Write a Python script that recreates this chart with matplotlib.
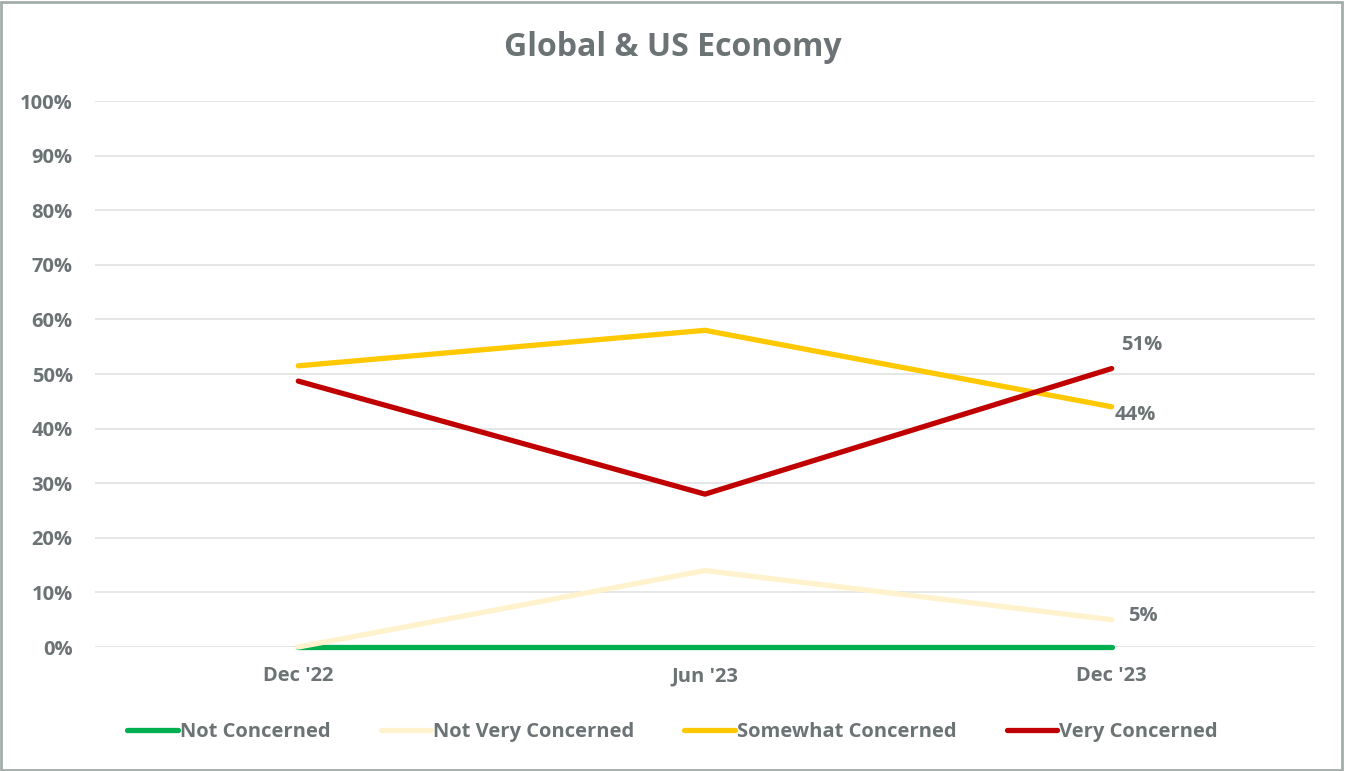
import matplotlib.pyplot as plt
from matplotlib.patches import Rectangle

# Survey results by wave
periods = ["Dec '22", "Jun '23", "Dec '23"]
not_concerned = [0, 0, 0]
not_very_concerned = [0, 14, 5]
somewhat_concerned = [51.5, 58, 44]
very_concerned = [48.7, 28, 51]

series = [
    ("Not Concerned", not_concerned, "#00b050"),
    ("Not Very Concerned", not_very_concerned, "#fff2cc"),
    ("Somewhat Concerned", somewhat_concerned, "#ffc800"),
    ("Very Concerned", very_concerned, "#c00000"),
]

text_color = "#6b7375"
fs = 14.5
plt.rcParams['font.family'] = ['Open Sans', 'DejaVu Sans']
plt.rcParams['font.weight'] = 'bold'

fig = plt.figure(figsize=(13.45, 7.71), dpi=100)
ax = fig.add_axes([0.0706, 0.1608, 0.9071, 0.7082])

x = list(range(len(periods)))
for name, vals, color in series:
    ax.plot(x, vals, color=color, linewidth=3.8, solid_capstyle='round',
            label=name, clip_on=False, zorder=3)

# value labels on the last point
ax.annotate("51%", (2, very_concerned[2]), xytext=(7, 17), textcoords='offset points',
            ha='left', va='center', fontsize=fs, color=text_color, fontweight='bold')
ax.annotate("44%", (2, somewhat_concerned[2]), xytext=(2, -6), textcoords='offset points',
            ha='left', va='center', fontsize=fs, color=text_color, fontweight='bold')
ax.annotate("5%", (2, not_very_concerned[2]), xytext=(12, 3), textcoords='offset points',
            ha='left', va='center', fontsize=fs, color=text_color, fontweight='bold')

ax.set_xlim(-0.5, 2.5)
ax.set_ylim(0, 100)
ax.set_yticks(range(0, 101, 10))
ax.set_yticklabels([f"{v}%" for v in range(0, 101, 10)])
ax.set_xticks(x)
ax.set_xticklabels(periods)
ax.tick_params(axis='both', length=0, labelsize=fs, labelcolor=text_color, pad=16)
ax.tick_params(axis='x', pad=14)
for lbl in ax.get_xticklabels() + ax.get_yticklabels():
    lbl.set_fontweight('bold')

ax.grid(axis='y', color='#dfe3e2', linewidth=1.2)
ax.set_axisbelow(True)
for s in ax.spines.values():
    s.set_visible(False)

fig.text(0.5, 0.938, "Global & US Economy", ha='center', va='center',
         fontsize=23, color=text_color, fontweight='bold')

leg = fig.legend(loc='center', bbox_to_anchor=(0.5, 0.051), ncol=4, frameon=False,
                 fontsize=fs, handlelength=2.5, handletextpad=0.1, columnspacing=2.5,
                 labelcolor=text_color)
for t in leg.get_texts():
    t.set_fontweight('bold')

# outer chart border
fig.patches.append(Rectangle((0.001, 0.001), 0.997, 0.997, transform=fig.transFigure,
                             fill=False, edgecolor='#a3aeaa', linewidth=2))

fig.savefig("out.png", dpi=100)
